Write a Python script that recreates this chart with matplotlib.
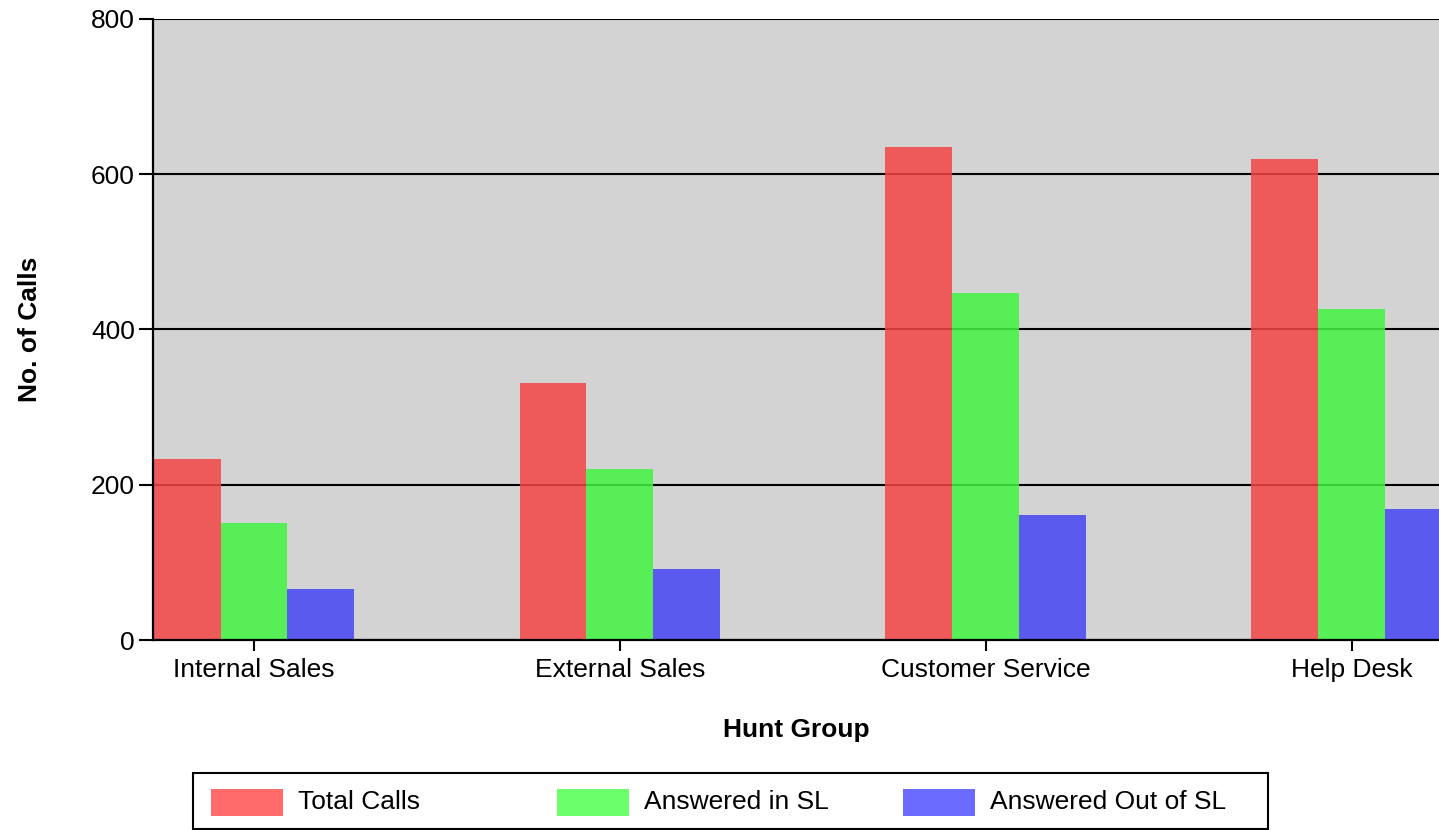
import matplotlib
matplotlib.use("Agg")
import matplotlib.pyplot as plt
import numpy as np
from matplotlib.patches import Rectangle

plt.rcParams["font.family"] = ["Liberation Sans", "DejaVu Sans"]

groups = ["Internal Sales", "External Sales", "Customer Service", "Help Desk"]
series = ["Total Calls", "Answered in SL", "Answered Out of SL"]
total_calls = [233, 331, 635, 620]
answered_in_sl = [151, 220, 447, 426]
answered_out_sl = [66, 92, 161, 169]

bar_colors = ["#f34545", "#41f341", "#4545f3"]
legend_colors = ["#ff6b6b", "#6bff6b", "#6b6bff"]

fig = plt.figure(figsize=(14.39, 8.30), dpi=100)
ax = fig.add_axes([153 / 1439, 1 - 640 / 830, 1 - 153 / 1439, (640 - 19) / 830])
ax.set_facecolor("#d3d3d3")

x = np.arange(len(groups))
w = 0.183
for i, (vals, col) in enumerate(zip([total_calls, answered_in_sl, answered_out_sl], bar_colors)):
    ax.bar(x + (i - 1) * w, vals, width=w, color=col, alpha=0.85, zorder=3, linewidth=0)

ax.set_ylim(0, 800)
ax.set_xlim(-0.276, 3.238)
ax.set_yticks([0, 200, 400, 600, 800])
ax.set_xticks(x)
ax.set_xticklabels(groups)
ax.yaxis.grid(True, color="black", linewidth=1.5, zorder=1)
ax.set_axisbelow(True)
for s in ["top", "right"]:
    ax.spines[s].set_visible(False)
for s in ["left", "bottom"]:
    ax.spines[s].set_linewidth(1.6)
    ax.spines[s].set_zorder(4)
ax.tick_params(axis="y", length=10, width=1.5, labelsize=19, pad=3)
ax.tick_params(axis="x", length=8, width=1.5, labelsize=19, pad=5)

ax.set_xlabel("Hunt Group", fontsize=19, fontweight="bold", labelpad=26)
ax.set_ylabel("No. of Calls", fontsize=19, fontweight="bold", labelpad=35)

# legend box (drawn by hand so the columns are evenly spaced)
W, H = 1439, 830
fig.add_artist(Rectangle((193 / W, 1 - 829 / H), (1268 - 193) / W, (829 - 773) / H,
                         transform=fig.transFigure, facecolor="white", edgecolor="black", linewidth=1.5))
for i, (name, col) in enumerate(zip(series, legend_colors)):
    x0 = 211 + i * 346
    fig.add_artist(Rectangle((x0 / W, 1 - 816 / H), 72 / W, 27 / H,
                             transform=fig.transFigure, facecolor=col, edgecolor="none"))
    fig.text((x0 + 87) / W, 1 - 802 / H, name, fontsize=19, va="center", ha="left")

fig.savefig("out.png", dpi=100)
